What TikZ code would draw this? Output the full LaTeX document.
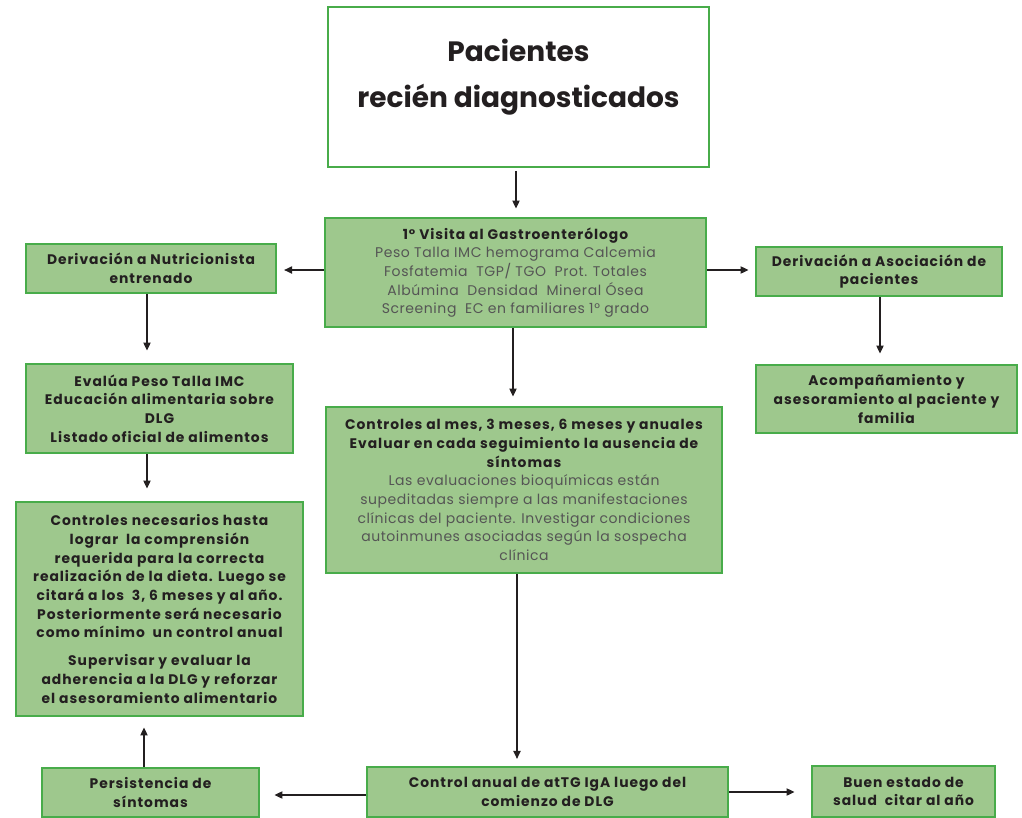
\documentclass[tikz,border=0pt]{standalone}
\usepackage{fontspec}
\setmainfont{Poppins}
\newfontfamily\hdfont{Poppins}[LetterSpace=7]
\newfontfamily\bdfont{Poppins}[LetterSpace=4]
\usetikzlibrary{arrows.meta}
\definecolor{gfill}{RGB}{158,200,141}
\definecolor{gborder}{RGB}{72,172,74}
\definecolor{tdark}{RGB}{35,31,32}
\definecolor{tgray}{RGB}{85,85,85}
\tikzset{
  box/.style={draw=gborder, line width=2.2pt, fill=gfill, inner sep=0pt, align=center, text=tdark,
    font=\hdfont\fontsize{10.4}{14}\selectfont\bfseries},
  titlebox/.style={draw=gborder, line width=1.8pt, fill=white, inner sep=0pt},
  titletext/.style={inner sep=0pt, align=center, text=tdark,
    font=\fontsize{21}{35}\selectfont\bfseries},
  arr/.style={draw=tdark, line width=0.8pt, -{Triangle[length=6pt,width=5.5pt]}},
}
\newcommand{\bodytxt}[1]{{\bdfont\mdseries\fontsize{10.5}{14}\selectfont\color{tgray}#1}}
\begin{document}
\begin{tikzpicture}[x=0.75pt,y=-0.75pt]
\useasboundingbox (0,0) rectangle (1022,818);
% nodes
\node[titlebox, minimum width=285.75pt, minimum height=120pt] (top) at (518.5,87) {};
\node[titletext] (toptext) at (518.5,77) {Pacientes\\recién diagnosticados};
\node[box, minimum width=285.75pt, minimum height=81.75pt] (visita) at (515.5,272.5)
  {1° Visita al Gastroenterólogo\\
   \bodytxt{Peso Talla IMC hemograma Calcemia}\\
   \bodytxt{Fosfatemia \ TGP/ TGO \ Prot. Totales}\\
   \bodytxt{Albúmina \ Densidad \ Mineral Ósea}\\
   \bodytxt{Screening \ EC en familiares 1° grado}};
\node[box, minimum width=187.5pt, minimum height=36.75pt] (nutri) at (151,268.5)
  {Derivación a Nutricionista\\entrenado};
\node[box, minimum width=184.5pt, minimum height=36.75pt] (asoc) at (879,271.5)
  {Derivación a Asociación de\\pacientes};
\node[box, minimum width=200.25pt, minimum height=66.75pt] (evalua) at (159.5,408.5)
  {Evalúa Peso Talla IMC\\Educación alimentaria sobre\\DLG\\Listado oficial de alimentos};
\node[box, minimum width=195.75pt, minimum height=51pt] (acomp) at (886.5,399)
  {Acompañamiento y\\asesoramiento al paciente y\\familia};
\node[box, minimum width=297pt, minimum height=124.5pt] (controles) at (524,490)
  {Controles al mes, 3 meses, 6 meses y anuales\\
   Evaluar en cada seguimiento la ausencia de\\
   síntomas\\
   \bodytxt{Las evaluaciones bioquímicas están}\\
   \bodytxt{supeditadas siempre a las manifestaciones}\\
   \bodytxt{clínicas del paciente. Investigar condiciones}\\
   \bodytxt{autoinmunes asociadas según la sospecha}\\
   \bodytxt{clínica}};
\node[box, minimum width=215.25pt, minimum height=160.5pt] (necesarios) at (159.5,609)
  {Controles necesarios hasta\\
   lograr \ la comprensión\\
   requerida para la correcta\\
   realización de la dieta. Luego se\\
   citará a los \ 3, 6 meses y al año.\\
   Posteriormente será necesario\\
   como mínimo \ un control anual\\[7pt]
   Supervisar y evaluar la\\
   adherencia a la DLG y reforzar\\
   el asesoramiento alimentario};
\node[box, minimum width=162.75pt, minimum height=36.75pt] (persist) at (150.5,792.5)
  {Persistencia de\\síntomas};
\node[box, minimum width=270.75pt, minimum height=37.5pt] (anual) at (547.5,792)
  {Control anual de atTG IgA luego del\\comienzo de DLG};
\node[box, minimum width=137.25pt, minimum height=38.25pt] (buen) at (903.5,791.5)
  {Buen estado de\\salud \ citar al año};
% helper coordinates
\coordinate (x516) at (516,0);
\coordinate (x147) at (147,0);
\coordinate (x880) at (880,0);
\coordinate (x513) at (513,0);
\coordinate (x517) at (517,0);
\coordinate (x144) at (144,0);
\coordinate (y270) at (0,270);
\coordinate (y795) at (0,795);
% connectors
\draw[arr, shorten <=2pt, shorten >=6pt] (top.south -| x516) -- (visita.north -| x516);
\draw[arr, shorten >=5pt] (visita.west |- y270) -- (nutri.east |- y270);
\draw[arr, shorten >=4.5pt] (visita.east |- y270) -- (asoc.west |- y270);
\draw[arr, shorten >=9pt] (nutri.south -| x147) -- (evalua.north -| x147);
\draw[arr, shorten >=7.5pt] (asoc.south -| x880) -- (acomp.north -| x880);
\draw[arr, shorten >=9pt] (evalua.south -| x147) -- (necesarios.north -| x147);
\draw[arr, shorten >=6.75pt] (visita.south -| x513) -- (controles.north -| x513);
\draw[arr, shorten >=5pt] (controles.south -| x517) -- (anual.north -| x517);
\draw[arr, shorten >=10.5pt] (anual.west |- y795) -- (persist.east |- y795);
\draw[arr, shorten >=12pt] (anual.east) -- (buen.west |- anual.east);
\draw[arr, shorten >=7.5pt] (persist.north -| x144) -- (necesarios.south -| x144);
\end{tikzpicture}
\end{document}
